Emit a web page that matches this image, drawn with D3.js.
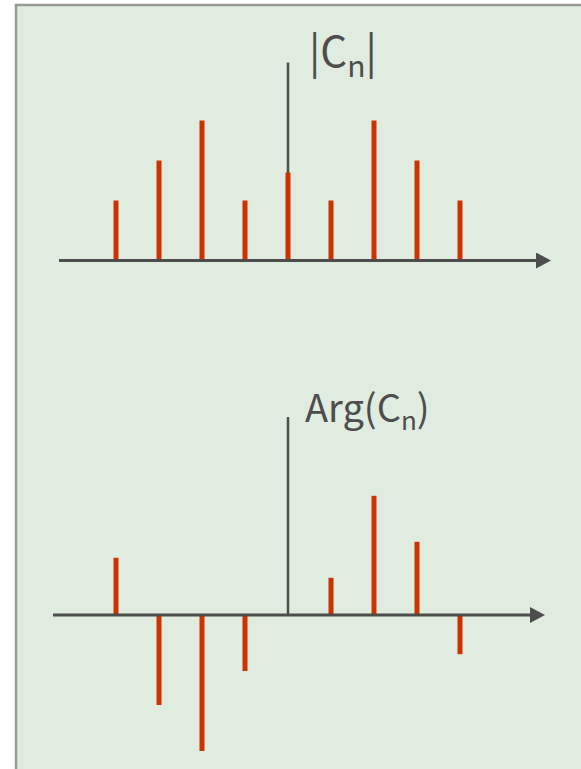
<!DOCTYPE html>
<html>
<head>
<meta charset="utf-8">
<script src="https://cdn.jsdelivr.net/npm/d3@7"></script>
<style>
  html, body { margin: 0; padding: 0; background: #fff; }
  svg { display: block; }
</style>
</head>
<body>
<svg id="chart"></svg>
<script>
// harmonic index n
const harmonics = [-4, -3, -2, -1, 0, 1, 2, 3, 4];
// |Cn| magnitude spectrum
const magnitude = [1.5, 2.5, 3.5, 1.5, 2.2, 1.5, 3.5, 2.5, 1.5];
// Arg(Cn) phase spectrum
const phase = [1.43, -2.25, -3.4, -1.4, 0, 0.93, 2.98, 1.83, -0.98];

const width = 581, height = 769;
const stemColor = "#cc3300";
const axisColor = "#4d4d4d";
const fontFamily = `"Noto Sans CJK KR", "Noto Sans", sans-serif`;

const svg = d3.select("#chart")
  .attr("width", width)
  .attr("height", height)
  .attr("viewBox", [0, 0, width, height]);

// panel
svg.append("rect")
  .attr("x", 16).attr("y", 5)
  .attr("width", width).attr("height", height)
  .attr("fill", "#dfecdf")
  .attr("stroke", "#999")
  .attr("stroke-width", 2.5);

const x = d3.scaleLinear()
  .domain([-4, 4])
  .range([116, 460]);

const yMag = d3.scaleLinear()
  .domain([0, 5])
  .range([260.5, 60.5]);

const yPhase = d3.scaleLinear()
  .domain([0, 5])
  .range([615, 415]);

const defs = svg.append("defs");
defs.append("marker")
  .attr("id", "arrow")
  .attr("viewBox", "0 0 15 16")
  .attr("refX", 0).attr("refY", 8)
  .attr("markerWidth", 15).attr("markerHeight", 16)
  .attr("markerUnits", "userSpaceOnUse")
  .attr("orient", "auto")
  .append("path")
  .attr("d", "M0,0L15,8L0,16Z")
  .attr("fill", axisColor);

function panel(y, values, xStart, xEnd, axisTop, label, labelX, labelY, labelSize, subSize, subDy) {
  const g = svg.append("g");
  const data = harmonics.map((n, i) => ({ n, v: values[i] })).filter(d => d.v !== 0);

  // vertical axis
  g.append("line")
    .attr("x1", x(0)).attr("x2", x(0))
    .attr("y1", y(axisTop)).attr("y2", y(0))
    .attr("stroke", axisColor)
    .attr("stroke-width", 2.5);

  // stems
  g.append("g")
    .selectAll("line")
    .data(data)
    .join("line")
    .attr("x1", d => x(d.n))
    .attr("x2", d => x(d.n))
    .attr("y1", y(0))
    .attr("y2", d => y(d.v))
    .attr("stroke", stemColor)
    .attr("stroke-width", 5);

  // horizontal axis
  g.append("line")
    .attr("x1", xStart).attr("x2", xEnd)
    .attr("y1", y(0)).attr("y2", y(0))
    .attr("stroke", axisColor)
    .attr("stroke-width", 3)
    .attr("marker-end", "url(#arrow)");

  const t = g.append("text")
    .attr("x", labelX)
    .attr("y", labelY)
    .attr("fill", axisColor)
    .attr("font-family", fontFamily)
    .attr("font-size", labelSize);
  t.append("tspan").text(label[0]);
  t.append("tspan").attr("dy", subDy).attr("font-size", subSize).text("n");
  t.append("tspan").attr("dy", -subDy).text(label[1]);
}

panel(yMag, magnitude, 59, 536, 4.95, ["|C", "|"], 309, 67, 42, 30, 10);
panel(yPhase, phase, 53, 530, 4.95, ["Arg(C", ")"], 305, 422, 38, 26, 8);
</script>
</body>
</html>
